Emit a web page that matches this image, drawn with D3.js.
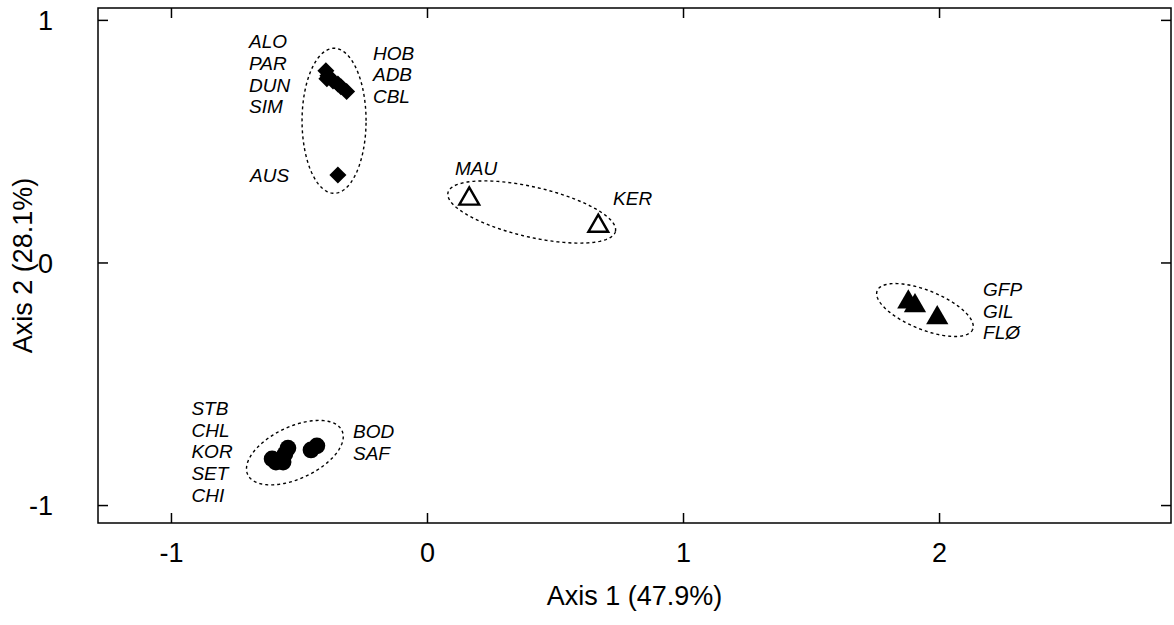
<!DOCTYPE html>
<html>
<head>
<meta charset="utf-8">
<script src="https://cdn.jsdelivr.net/npm/d3@7"></script>
<style>
  html, body { margin: 0; padding: 0; background: #fff; }
  svg { display: block; }
  .lbl { font-family: "Liberation Sans", Arial, sans-serif; font-style: italic; font-size: 19px; fill: #000; }
  .tick text { font-family: "Liberation Sans", Arial, sans-serif; font-size: 27px; fill: #000; }
  .title { font-family: "Liberation Sans", Arial, sans-serif; font-size: 27px; fill: #000; }
</style>
</head>
<body>
<svg id="chart" width="1174" height="625"></svg>
<script>
// ---- data ----
const diamondNames = ["ALO", "PAR", "DUN", "SIM", "HOB", "ADB", "CBL", "AUS"];
const diamondX = [-0.395, -0.387, -0.391, -0.367, -0.348, -0.336, -0.314, -0.348];
const diamondY = [0.790, 0.770, 0.757, 0.748, 0.736, 0.724, 0.705, 0.361];

const circleNames = ["STB", "CHL", "KOR", "SET", "CHI", "BOD", "SAF"];
const circleX = [-0.605, -0.590, -0.562, -0.555, -0.543, -0.453, -0.430];
const circleY = [-0.810, -0.823, -0.823, -0.790, -0.765, -0.773, -0.756];

const filledTriNames = ["GFP", "GIL", "FLØ"];
const filledTriX = [1.880, 1.906, 1.993];
const filledTriY = [-0.163, -0.179, -0.228];

const openTriNames = ["MAU", "KER"];
const openTriX = [0.165, 0.669];
const openTriY = [0.262, 0.150];

// group ellipses in data units: centre + two axis vectors
const ellipseCX = [-0.363, 0.409, 1.945, -0.516];
const ellipseCY = [0.584, 0.208, -0.196, -0.784];
const ellipseU = [[0.125, 0], [0.327, -0.0797], [0.1865, -0.0797], [0.184, 0.0907]];
const ellipseV = [[0, 0.299], [-0.022, -0.1005], [-0.0286, -0.0745], [0.043, -0.0972]];

// text label groups (anchor of first line, in data units)
const labelGroups = [
  { names: ["ALO", "PAR", "DUN", "SIM"], x: -0.695, y: 0.883 },
  { names: ["HOB", "ADB", "CBL"], x: -0.211, y: 0.836 },
  { names: ["AUS"], x: -0.691, y: 0.333 },
  { names: ["MAU"], x: 0.109, y: 0.360 },
  { names: ["KER"], x: 0.727, y: 0.236 },
  { names: ["GFP", "GIL", "FLØ"], x: 2.172, y: -0.138 },
  { names: ["STB", "CHL", "KOR", "SET", "CHI"], x: -0.920, y: -0.629 },
  { names: ["BOD", "SAF"], x: -0.289, y: -0.724 }
];

const xTicks = [-1, 0, 1, 2];
const yTicks = [-1, 0, 1];
const xDomain = [-1.285, 2.906];
const yDomain = [-1.074, 1.049];
const xTitle = "Axis 1 (47.9%)";
const yTitle = "Axis 2 (28.1%)";

// ---- layout ----
const L = 98, R = 1171, T = 8, B = 523;
const svg = d3.select("#chart");
const x = d3.scaleLinear().domain(xDomain).range([L, R]);
const y = d3.scaleLinear().domain(yDomain).range([B, T]);
const fmt = d => String(d);

// axes with inward ticks on all four sides
function styleAxis(g, showText) {
  g.select(".domain").remove();
  g.selectAll(".tick line").attr("stroke", "#000").attr("stroke-width", 1.5);
  if (!showText) g.selectAll(".tick text").remove();
}
svg.append("g").attr("transform", `translate(0,${B})`)
  .call(d3.axisBottom(x).tickValues(xTicks).tickSizeInner(-10).tickSizeOuter(0).tickFormat(fmt))
  .call(g => styleAxis(g, true))
  .call(g => g.selectAll(".tick text").attr("y", 39).attr("dy", "0"));
svg.append("g").attr("transform", `translate(0,${T})`)
  .call(d3.axisTop(x).tickValues(xTicks).tickSizeInner(-10).tickSizeOuter(0))
  .call(g => styleAxis(g, false));
svg.append("g").attr("transform", `translate(${L},0)`)
  .call(d3.axisLeft(y).tickValues(yTicks).tickSizeInner(-10).tickSizeOuter(0).tickFormat(fmt))
  .call(g => styleAxis(g, true))
  .call(g => g.selectAll(".tick text").attr("x", -45).attr("dy", "0.36em"));
svg.append("g").attr("transform", `translate(${R},0)`)
  .call(d3.axisRight(y).tickValues(yTicks).tickSizeInner(-10).tickSizeOuter(0))
  .call(g => styleAxis(g, false));

svg.append("rect").attr("x", L).attr("y", T).attr("width", R - L).attr("height", B - T)
  .attr("fill", "none").attr("stroke", "#000").attr("stroke-width", 1.5);

// titles
svg.append("text").attr("class", "title").attr("text-anchor", "middle")
  .attr("x", (L + R) / 2).attr("y", 605).text(xTitle);
svg.append("text").attr("class", "title").attr("text-anchor", "middle")
  .attr("transform", `translate(32,${(T + B) / 2}) rotate(-90)`).text(yTitle);

// ellipses
const line = d3.line().x(d => x(d[0])).y(d => y(d[1])).curve(d3.curveLinearClosed);
const tSteps = d3.range(0, 2 * Math.PI, Math.PI / 90);
ellipseCX.forEach((cx, i) => {
  const cy = ellipseCY[i], u = ellipseU[i], v = ellipseV[i];
  const pts = tSteps.map(t => [cx + u[0] * Math.cos(t) + v[0] * Math.sin(t),
                               cy + u[1] * Math.cos(t) + v[1] * Math.sin(t)]);
  svg.append("path").attr("d", line(pts)).attr("fill", "none")
    .attr("stroke", "#000").attr("stroke-width", 1.4).attr("stroke-dasharray", "3,3");
});

// symbols
const diamondPath = d3.symbol(d3.symbolSquare, 145)();
svg.append("g").selectAll("path").data(diamondNames).join("path")
  .attr("d", diamondPath)
  .attr("transform", (d, i) => `translate(${x(diamondX[i])},${y(diamondY[i])}) rotate(45)`)
  .attr("fill", "#000");

const circlePath = d3.symbol(d3.symbolCircle, Math.PI * 70)();
svg.append("g").selectAll("path").data(circleNames).join("path")
  .attr("d", circlePath)
  .attr("transform", (d, i) => `translate(${x(circleX[i])},${y(circleY[i])})`)
  .attr("fill", "#000");

const triPath = d3.symbol(d3.symbolTriangle, 215)();
svg.append("g").selectAll("path").data(filledTriNames).join("path")
  .attr("d", triPath)
  .attr("transform", (d, i) => `translate(${x(filledTriX[i])},${y(filledTriY[i])})`)
  .attr("fill", "#000");

const openTriPath = d3.symbol(d3.symbolTriangle, 170)();
svg.append("g").selectAll("path").data(openTriNames).join("path")
  .attr("d", openTriPath)
  .attr("transform", (d, i) => `translate(${x(openTriX[i])},${y(openTriY[i])})`)
  .attr("fill", "none").attr("stroke", "#000").attr("stroke-width", 2.4);

// labels
const lineGap = 21.7;
labelGroups.forEach(gp => {
  gp.names.forEach((n, j) => {
    svg.append("text").attr("class", "lbl")
      .attr("x", x(gp.x)).attr("y", y(gp.y) + j * lineGap).text(n);
  });
});
</script>
</body>
</html>
